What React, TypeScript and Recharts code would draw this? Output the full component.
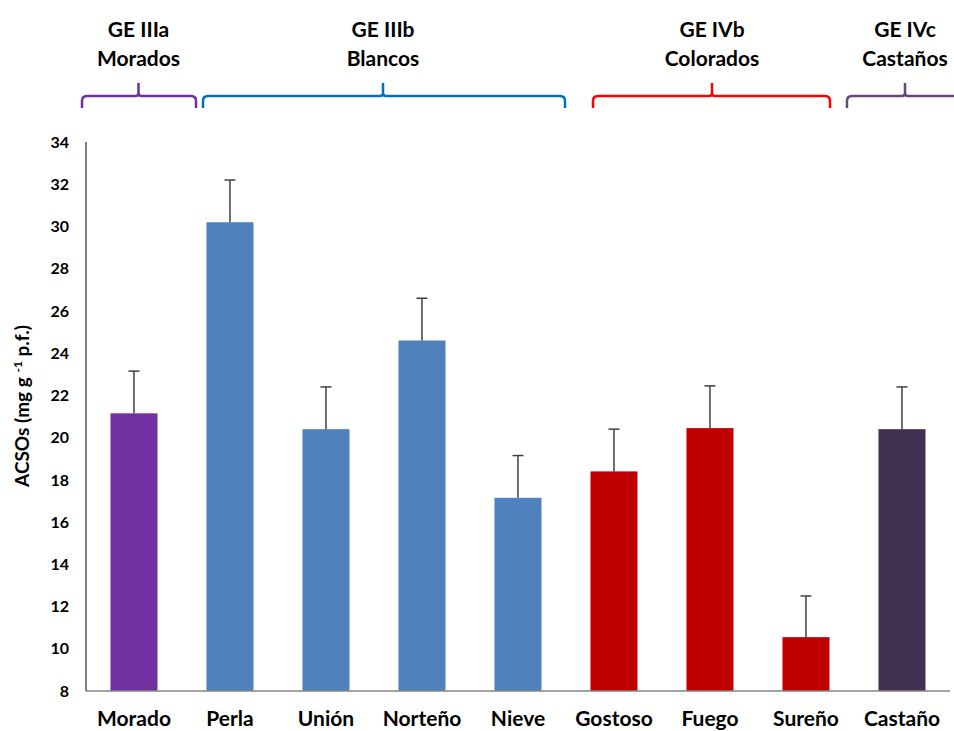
import React from 'react';
import { BarChart, Bar, XAxis, YAxis, Cell } from 'recharts';

// ACSOs content per cultivar (mg g-1 p.f.), mean and standard error
const categories = ['Morado', 'Perla', 'Unión', 'Norteño', 'Nieve', 'Gostoso', 'Fuego', 'Sureño', 'Castaño'];
const means = [21.15, 30.2, 20.4, 24.6, 17.15, 18.4, 20.45, 10.55, 20.4];
const errors = [2.0, 2.0, 2.0, 2.0, 2.0, 2.0, 2.0, 1.95, 2.0];
const barColors = ['#7030A0', '#4F81BD', '#4F81BD', '#4F81BD', '#4F81BD', '#C00000', '#C00000', '#C00000', '#403151'];
const yTicks = [8, 10, 12, 14, 16, 18, 20, 22, 24, 26, 28, 30, 32, 34];
const Y_MIN = 8;
const Y_MAX = 34;

// Group headings shown above the plot
const groupLine1 = ['GE IIIa', 'GE IIIb', 'GE IVb', 'GE IVc'];
const groupLine2 = ['Morados', 'Blancos', 'Colorados', 'Castaños'];
const groupColors = ['#7030A0', '#0070C0', '#FF0000', '#604A7B'];

// Brace layout (left, peak, right) in px
const braceLayout = [
  [82, 138.5, 196],
  [203, 383, 565],
  [593, 712, 830],
  [847, 905, 970],
];

const data = categories.map((name, i) => ({ name, mean: means[i], err: errors[i] }));

const FONT = 'Lato, "Open Sans", sans-serif';

const BarWithError = (props: any) => {
  const { x, y, width, height, fill, payload } = props;
  const pxPerUnit = height / (payload.mean - Y_MIN);
  const topY = y - payload.err * pxPerUnit;
  const cx = x + width / 2;
  return (
    <g>
      <rect x={x} y={y} width={width} height={height} fill={fill} />
      <line x1={cx} x2={cx} y1={y} y2={topY} stroke="#404040" strokeWidth={1.5} />
      <line x1={cx - 5.5} x2={cx + 5.5} y1={topY} y2={topY} stroke="#404040" strokeWidth={1.5} />
    </g>
  );
};

const bracePath = (x1: number, px: number, x2: number) => {
  const h = 96;
  const r = 5;
  return [
    `M${x1},108 L${x1},${h + r} Q${x1},${h} ${x1 + r},${h} L${px - 3},${h} Q${px},${h} ${px},${h - 3} L${px},83`,
    `M${px},${h - 3} Q${px},${h} ${px + 3},${h} L${x2 - r},${h} Q${x2},${h} ${x2},${h + r} L${x2},108`,
  ].join(' ');
};

export default function App() {
  return (
    <div style={{ position: 'absolute', left: 0, top: 0, width: 954, height: 731, background: '#fff' }}>
      <BarChart
        width={954}
        height={731}
        data={data}
        margin={{ top: 142, right: 4, left: 26, bottom: 0 }}
        barCategoryGap="25.5%"
      >
        <XAxis
          dataKey="name"
          height={40}
          tickLine={false}
          tickSize={0}
          tickMargin={20}
          axisLine={{ stroke: '#868686', strokeWidth: 1.5 }}
          tick={{ fontFamily: FONT, fontWeight: 700, fontSize: 21, fill: '#000' }}
          interval={0}
        />
        <YAxis
          width={60}
          domain={[Y_MIN, Y_MAX]}
          ticks={yTicks}
          allowDataOverflow
          tickLine={false}
          tickSize={0}
          tickMargin={17}
          axisLine={{ stroke: '#000', strokeWidth: 1 }}
          tick={{ fontFamily: FONT, fontWeight: 700, fontSize: 16, fill: '#000' }}
        />
        <Bar dataKey="mean" isAnimationActive={false} shape={BarWithError}>
          {data.map((d, i) => (
            <Cell key={d.name} fill={barColors[i]} />
          ))}
        </Bar>
      </BarChart>
      <svg
        width={954}
        height={731}
        style={{ position: 'absolute', left: 0, top: 0, pointerEvents: 'none' }}
      >
        {braceLayout.map(([x1, px, x2], i) => (
          <g key={i}>
            <path d={bracePath(x1, px, x2)} fill="none" stroke={groupColors[i]} strokeWidth={2.5} />
            <text x={px} y={37} textAnchor="middle" fontFamily={FONT} fontWeight={700} fontSize={21} fill="#000">
              {groupLine1[i]}
            </text>
            <text x={px} y={66} textAnchor="middle" fontFamily={FONT} fontWeight={700} fontSize={21} fill="#000">
              {groupLine2[i]}
            </text>
          </g>
        ))}
        <text
          transform="translate(29,406) rotate(-90)"
          textAnchor="middle"
          fontFamily={FONT}
          fontWeight={700}
          fontSize={19}
          fill="#000"
        >
          ACSOs (mg g <tspan fontSize={12} dy={-7}>-1</tspan>
          <tspan dy={7}> p.f.)</tspan>
        </text>
      </svg>
    </div>
  );
}
